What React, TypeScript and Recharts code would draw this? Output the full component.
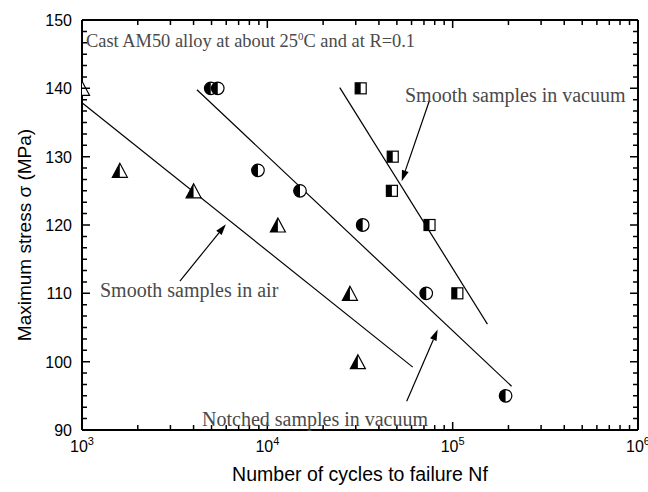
import React from "react";
import {
  ComposedChart,
  XAxis,
  YAxis,
  Scatter,
  ReferenceLine,
} from "recharts";

// Cycles to failure (Nf) and max stress (MPa).
const AIR_N = [1000, 1600, 4000, 11400, 27900, 30800];
const AIR_S = [140, 128, 125, 120, 110, 100];
const NOTCH_N = [4950, 5400, 8900, 15000, 32700, 72000, 193000];
const NOTCH_S = [140, 140, 128, 125, 120, 110, 95];
const VAC_N = [31900, 47500, 47000, 75000, 106000];
const VAC_S = [140, 130, 125, 120, 110];

// Fitted lines, two end points each
const AIR_FIT_N = [1000, 60900];
const AIR_FIT_S = [137.9, 99.2];
const NOTCH_FIT_N = [4170, 208000];
const NOTCH_FIT_S = [139.8, 96.4];
const VAC_FIT_N = [24600, 154000];
const VAC_FIT_S = [140.1, 105.5];

// Annotation arrows: [tail, head] in data coords
const ARROW_VAC = [{ x: 75100, y: 138.3 }, { x: 53100, y: 126.4 }];
const ARROW_AIR = [{ x: 3375, y: 111.8 }, { x: 5975, y: 120.1 }];
const ARROW_NOTCH = [{ x: 56500, y: 94.2 }, { x: 83000, y: 104.7 }];

const X_MAJOR = [1e3, 1e4, 1e5, 1e6];
const X_MINOR = [1e3, 1e4, 1e5].flatMap((d) => [2, 3, 4, 5, 6, 7, 8, 9].map((m) => m * d));
const Y_MAJOR = [90, 100, 110, 120, 130, 140, 150];
const Y_MINOR = Y_MAJOR.slice(0, -1).flatMap((v) => [1, 2, 3, 4, 5].map((k) => v + (k * 10) / 6));

const X_DOMAIN = [1e3, 1e6];
const Y_DOMAIN = [90, 150];

const W = 648;
const H = 492;
const MARGIN = { top: 20, right: 10, bottom: 62, left: 82 };

const SANS = "'Liberation Sans', Arial, sans-serif";
const SERIF = "'Liberation Serif', 'Times New Roman', serif";
const NOTE = "#4a4a4a";
const THIN = 0.01; // axes take no room; margins place the plot box
const MAJOR_LEN = 8;
const MINOR_LEN = 5;

const zip = (n: number[], s: number[]) => n.map((x, i) => ({ x, y: s[i] }));

// same mapping as the chart's log-x / linear-y axes, for the inward frame ticks
const L = MARGIN.left;
const R = W - MARGIN.right;
const T = MARGIN.top;
const B = H - MARGIN.bottom;
const sx = (v: number) =>
  L + ((Math.log10(v) - Math.log10(X_DOMAIN[0])) / (Math.log10(X_DOMAIN[1]) - Math.log10(X_DOMAIN[0]))) * (R - L);
const sy = (v: number) => B - ((v - Y_DOMAIN[0]) / (Y_DOMAIN[1] - Y_DOMAIN[0])) * (B - T);

function HalfTriangle({ cx, cy }: any) {
  const w = 15;
  const h = 14;
  const top = cy - h / 2;
  const bot = cy + h / 2;
  return (
    <g>
      <polygon points={`${cx},${top} ${cx - w / 2},${bot} ${cx + w / 2},${bot}`} fill="#fff" stroke="#000" strokeWidth={1.2} />
      <polygon points={`${cx},${top} ${cx - w / 2},${bot} ${cx},${bot}`} fill="#000" />
    </g>
  );
}

function HalfCircle({ cx, cy }: any) {
  const r = 6.3;
  return (
    <g>
      <circle cx={cx} cy={cy} r={r} fill="#fff" stroke="#000" strokeWidth={1.2} />
      <path d={`M${cx},${cy - r} A${r},${r} 0 0 0 ${cx},${cy + r} Z`} fill="#000" />
    </g>
  );
}

function HalfSquare({ cx, cy }: any) {
  const s = 11;
  return (
    <g>
      <rect x={cx - s / 2} y={cy - s / 2} width={s} height={s} fill="#fff" stroke="#000" strokeWidth={1.2} />
      <rect x={cx - s / 2} y={cy - s / 2} width={s / 2} height={s} fill="#000" />
    </g>
  );
}

function Arrow(p: any) {
  const { x1, y1, x2, y2 } = p;
  const a = Math.atan2(y2 - y1, x2 - x1);
  const len = 11;
  const half = 3.5;
  const bx = x2 - len * Math.cos(a);
  const by = y2 - len * Math.sin(a);
  const px = -Math.sin(a) * half;
  const py = Math.cos(a) * half;
  return (
    <g>
      <line x1={x1} y1={y1} x2={bx} y2={by} stroke="#000" strokeWidth={1.2} />
      <polygon points={`${x2},${y2} ${bx + px},${by + py} ${bx - px},${by - py}`} fill="#000" />
    </g>
  );
}

function BottomLabel({ x, y, payload }: any) {
  const exp = Math.round(Math.log10(payload.value));
  return (
    <text x={x} y={y + 22} textAnchor="middle" fontSize={16} fontFamily={SANS} fill="#000">
      10
      <tspan dy={-7} fontSize={11}>
        {exp}
      </tspan>
    </text>
  );
}

function LeftLabel({ x, y, payload }: any) {
  return (
    <text x={x - 10} y={y + 6} textAnchor="end" fontSize={16} fontFamily={SANS} fill="#000">
      {payload.value}
    </text>
  );
}

function FrameTicks() {
  const xs = [
    ...X_MAJOR.map((v) => ({ p: sx(v), len: MAJOR_LEN })),
    ...X_MINOR.map((v) => ({ p: sx(v), len: MINOR_LEN })),
  ];
  const ys = [
    ...Y_MAJOR.map((v) => ({ p: sy(v), len: MAJOR_LEN })),
    ...Y_MINOR.map((v) => ({ p: sy(v), len: MINOR_LEN })),
  ];
  const d = [
    ...xs.map((t) => `M${t.p},${B}V${B - t.len}M${t.p},${T}V${T + t.len}`),
    ...ys.map((t) => `M${L},${t.p}H${L + t.len}M${R},${t.p}H${R - t.len}`),
  ].join("");
  return <path d={d} stroke="#000" strokeWidth={1.5} fill="none" />;
}

const frame = {
  type: "number" as const,
  allowDataOverflow: true,
  interval: 0 as const,
  tickSize: 0,
  tickMargin: 0,
  tickLine: false,
  axisLine: { stroke: "#000", strokeWidth: 2 },
};

export default function App() {
  return (
    <div style={{ position: "absolute", left: 0, top: 0, width: W, height: H, background: "#fff" }}>
      <ComposedChart width={W} height={H} margin={MARGIN}>
        <XAxis xAxisId="b" dataKey="x" {...frame} scale="log" domain={X_DOMAIN} ticks={X_MAJOR} height={THIN} tick={<BottomLabel />} />
        <XAxis xAxisId="t" orientation="top" {...frame} scale="log" domain={X_DOMAIN} ticks={X_MAJOR} height={THIN} tick={false} />
        <YAxis yAxisId="l" dataKey="y" {...frame} domain={Y_DOMAIN} ticks={Y_MAJOR} width={THIN} tick={<LeftLabel />} />
        <YAxis yAxisId="r" orientation="right" {...frame} domain={Y_DOMAIN} ticks={Y_MAJOR} width={THIN} tick={false} />

        <ReferenceLine
          xAxisId="b"
          yAxisId="l"
          ifOverflow="visible"
          stroke="#000"
          strokeWidth={1.2}
          segment={zip(AIR_FIT_N, AIR_FIT_S)}
        />
        <ReferenceLine
          xAxisId="b"
          yAxisId="l"
          ifOverflow="visible"
          stroke="#000"
          strokeWidth={1.2}
          segment={zip(NOTCH_FIT_N, NOTCH_FIT_S)}
        />
        <ReferenceLine
          xAxisId="b"
          yAxisId="l"
          ifOverflow="visible"
          stroke="#000"
          strokeWidth={1.2}
          segment={zip(VAC_FIT_N, VAC_FIT_S)}
        />
        <ReferenceLine xAxisId="b" yAxisId="l" ifOverflow="visible" segment={ARROW_VAC} shape={<Arrow />} />
        <ReferenceLine xAxisId="b" yAxisId="l" ifOverflow="visible" segment={ARROW_AIR} shape={<Arrow />} />
        <ReferenceLine xAxisId="b" yAxisId="l" ifOverflow="visible" segment={ARROW_NOTCH} shape={<Arrow />} />

        <Scatter xAxisId="b" yAxisId="l" data={zip(AIR_N, AIR_S)} shape={<HalfTriangle />} isAnimationActive={false} />
        <Scatter xAxisId="b" yAxisId="l" data={zip(NOTCH_N, NOTCH_S)} shape={<HalfCircle />} isAnimationActive={false} />
        <Scatter xAxisId="b" yAxisId="l" data={zip(VAC_N, VAC_S)} shape={<HalfSquare />} isAnimationActive={false} />
      </ComposedChart>

      <svg width={W} height={H} style={{ position: "absolute", left: 0, top: 0, pointerEvents: "none" }}>
        <FrameTicks />
        <text x={86} y={47} fontFamily={SERIF} fontSize={18.4} fill={NOTE}>
          Cast AM50 alloy at about 25
          <tspan dy={-7} fontSize={11}>0</tspan>
          <tspan dy={7}>C and at R=0.1</tspan>
        </text>
        <text x={405} y={102} fontFamily={SERIF} fontSize={20} fill={NOTE}>
          Smooth samples in vacuum
        </text>
        <text x={100} y={297} fontFamily={SERIF} fontSize={20} fill={NOTE}>
          Smooth samples in air
        </text>
        <text x={202} y={426} fontFamily={SERIF} fontSize={20} fill={NOTE}>
          Notched samples in vacuum
        </text>
        <text
          x={0}
          y={0}
          transform="translate(31,235) rotate(-90)"
          textAnchor="middle"
          fontFamily={SANS}
          fontSize={19}
          fill="#000"
        >
          Maximum stress  σ (MPa)
        </text>
        <text x={360} y={481} textAnchor="middle" fontFamily={SANS} fontSize={19.5} fill="#000">
          Number of cycles to failure Nf
        </text>
      </svg>
    </div>
  );
}
